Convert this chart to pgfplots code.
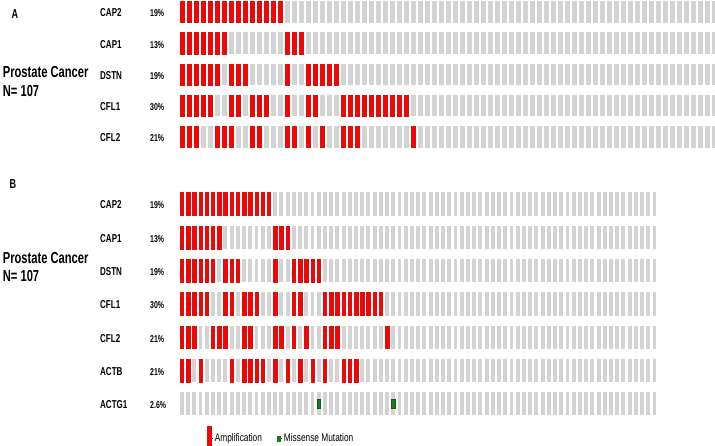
\documentclass[border=0pt]{standalone}
\usepackage{pgfplots}
\pgfplotsset{compat=1.18}
\usepackage{pgfplotstable}
\usepackage{fontspec}
\setmainfont{Liberation Sans}
\newfontfamily\cond[FakeStretch=0.7]{Liberation Sans}
\newfontfamily\legf[FakeStretch=0.76]{Liberation Sans}
\definecolor{ampred}{HTML}{FF0000}
\definecolor{ampedge}{HTML}{D41414}
\definecolor{cellgray}{HTML}{D3D3D3}
\definecolor{misgreen}{HTML}{1E7A1E}

% status grid: every displayed sample (77 columns) for each gene row
\pgfplotstableread[row sep=\\]{
i r1 r2 r3 r4 r5 r6 r7\\
0 1 2 3 4 5 6 7\\ 1 1 2 3 4 5 6 7\\ 2 1 2 3 4 5 6 7\\ 3 1 2 3 4 5 6 7\\ 4 1 2 3 4 5 6 7\\
5 1 2 3 4 5 6 7\\ 6 1 2 3 4 5 6 7\\ 7 1 2 3 4 5 6 7\\ 8 1 2 3 4 5 6 7\\ 9 1 2 3 4 5 6 7\\
10 1 2 3 4 5 6 7\\ 11 1 2 3 4 5 6 7\\ 12 1 2 3 4 5 6 7\\ 13 1 2 3 4 5 6 7\\ 14 1 2 3 4 5 6 7\\
15 1 2 3 4 5 6 7\\ 16 1 2 3 4 5 6 7\\ 17 1 2 3 4 5 6 7\\ 18 1 2 3 4 5 6 7\\ 19 1 2 3 4 5 6 7\\
20 1 2 3 4 5 6 7\\ 21 1 2 3 4 5 6 7\\ 22 1 2 3 4 5 6 7\\ 23 1 2 3 4 5 6 7\\ 24 1 2 3 4 5 6 7\\
25 1 2 3 4 5 6 7\\ 26 1 2 3 4 5 6 7\\ 27 1 2 3 4 5 6 7\\ 28 1 2 3 4 5 6 7\\ 29 1 2 3 4 5 6 7\\
30 1 2 3 4 5 6 7\\ 31 1 2 3 4 5 6 7\\ 32 1 2 3 4 5 6 7\\ 33 1 2 3 4 5 6 7\\ 34 1 2 3 4 5 6 7\\
35 1 2 3 4 5 6 7\\ 36 1 2 3 4 5 6 7\\ 37 1 2 3 4 5 6 7\\ 38 1 2 3 4 5 6 7\\ 39 1 2 3 4 5 6 7\\
40 1 2 3 4 5 6 7\\ 41 1 2 3 4 5 6 7\\ 42 1 2 3 4 5 6 7\\ 43 1 2 3 4 5 6 7\\ 44 1 2 3 4 5 6 7\\
45 1 2 3 4 5 6 7\\ 46 1 2 3 4 5 6 7\\ 47 1 2 3 4 5 6 7\\ 48 1 2 3 4 5 6 7\\ 49 1 2 3 4 5 6 7\\
50 1 2 3 4 5 6 7\\ 51 1 2 3 4 5 6 7\\ 52 1 2 3 4 5 6 7\\ 53 1 2 3 4 5 6 7\\ 54 1 2 3 4 5 6 7\\
55 1 2 3 4 5 6 7\\ 56 1 2 3 4 5 6 7\\ 57 1 2 3 4 5 6 7\\ 58 1 2 3 4 5 6 7\\ 59 1 2 3 4 5 6 7\\
60 1 2 3 4 5 6 7\\ 61 1 2 3 4 5 6 7\\ 62 1 2 3 4 5 6 7\\ 63 1 2 3 4 5 6 7\\ 64 1 2 3 4 5 6 7\\
65 1 2 3 4 5 6 7\\ 66 1 2 3 4 5 6 7\\ 67 1 2 3 4 5 6 7\\ 68 1 2 3 4 5 6 7\\ 69 1 2 3 4 5 6 7\\
70 1 2 3 4 5 6 7\\ 71 1 2 3 4 5 6 7\\ 72 1 2 3 4 5 6 7\\ 73 1 2 3 4 5 6 7\\ 74 1 2 3 4 5 6 7\\
75 1 2 3 4 5 6 7\\ 76 1 2 3 4 5 6 7\\
}\grid

% amplifications: sample index i, gene row r
% r: 1 CAP2, 2 CAP1, 3 DSTN, 4 CFL1, 5 CFL2, 6 ACTB
\pgfplotstableread[row sep=\\]{
i r\\
0 1\\ 1 1\\ 2 1\\ 3 1\\ 4 1\\ 5 1\\ 6 1\\ 7 1\\ 8 1\\ 9 1\\ 10 1\\ 11 1\\ 12 1\\ 13 1\\ 14 1\\
0 2\\ 1 2\\ 2 2\\ 3 2\\ 4 2\\ 5 2\\ 6 2\\ 15 2\\ 16 2\\ 17 2\\
0 3\\ 1 3\\ 2 3\\ 3 3\\ 4 3\\ 5 3\\ 7 3\\ 8 3\\ 9 3\\ 15 3\\ 18 3\\ 19 3\\ 20 3\\ 21 3\\ 22 3\\
0 4\\ 1 4\\ 2 4\\ 3 4\\ 4 4\\ 7 4\\ 8 4\\ 10 4\\ 11 4\\ 12 4\\ 15 4\\ 18 4\\ 19 4\\
23 4\\ 24 4\\ 25 4\\ 26 4\\ 27 4\\ 28 4\\ 29 4\\ 30 4\\ 31 4\\ 32 4\\
0 5\\ 1 5\\ 2 5\\ 5 5\\ 6 5\\ 7 5\\ 10 5\\ 11 5\\ 15 5\\ 16 5\\ 18 5\\ 20 5\\ 23 5\\ 24 5\\ 25 5\\ 33 5\\
0 6\\ 1 6\\ 3 6\\ 8 6\\ 10 6\\ 11 6\\ 12 6\\ 13 6\\ 15 6\\ 17 6\\ 19 6\\ 21 6\\ 23 6\\ 26 6\\ 27 6\\ 28 6\\
}\amp

% missense mutations (ACTG1, row 7)
\pgfplotstableread[row sep=\\]{
i r\\
22 7\\ 34 7\\
}\mis

\pgfdeclareplotmark{cellAfill}{\pgfpathrectangle{\pgfpoint{-2.3bp}{-10.75bp}}{\pgfpoint{4.6bp}{21.5bp}}\pgfusepathqfill}
\pgfdeclareplotmark{cellAbox}{\pgfpathrectangle{\pgfpoint{-2.1bp}{-10.55bp}}{\pgfpoint{4.2bp}{21.1bp}}\pgfusepathqfillstroke}
\pgfdeclareplotmark{cellBfill}{\pgfpathrectangle{\pgfpoint{-1.95bp}{-11.65bp}}{\pgfpoint{3.9bp}{23.3bp}}\pgfusepathqfill}
\pgfdeclareplotmark{cellBbox}{\pgfpathrectangle{\pgfpoint{-1.75bp}{-11.45bp}}{\pgfpoint{3.5bp}{22.9bp}}\pgfusepathqfillstroke}
\pgfdeclareplotmark{misB}{\pgfpathrectangle{\pgfpoint{-1.7bp}{-4.3bp}}{\pgfpoint{3.4bp}{8.6bp}}\pgfusepathqfillstroke}

\pgfplotsset{
  grayA/.style={only marks, mark=cellAfill, color=cellgray, mark options={fill=cellgray}, forget plot},
  redA/.style={only marks, mark=cellAbox, mark options={fill=ampred, draw=ampedge, line width=0.4bp}, forget plot},
  grayB/.style={only marks, mark=cellBfill, color=cellgray, mark options={fill=cellgray}, forget plot},
  redB/.style={only marks, mark=cellBbox, mark options={fill=ampred, draw=ampedge, line width=0.4bp}, forget plot},
  misS/.style={only marks, mark=misB, mark options={fill=misgreen, draw=misgreen!70!black, line width=0.3bp}, forget plot},
}

\begin{document}
\begin{tikzpicture}
\useasboundingbox (0bp,0bp) rectangle (715bp,446bp);

% ---------- Panel A ----------
\begin{axis}[at={(179bp,449.6bp)}, anchor=north west, scale only axis,
  width=536bp, height=156bp, xmin=-0.5, xmax=76.071, ymin=0.5, ymax=5.5,
  y dir=reverse, hide axis, clip=false]
\addplot[grayA] table[x=i,y=r1]{\grid};
\addplot[grayA] table[x=i,y=r2]{\grid};
\addplot[grayA] table[x=i,y=r3]{\grid};
\addplot[grayA] table[x=i,y=r4]{\grid};
\addplot[grayA] table[x=i,y=r5]{\grid};
\addplot[redA, restrict y to domain=0:5.5] table[x=i,y=r]{\amp};
\end{axis}

% ---------- Panel B ----------
\begin{axis}[at={(178.74bp,258.65bp)}, anchor=north west, scale only axis,
  width=478.9bp, height=233.1bp, xmin=-0.5, xmax=76.5, ymin=0.5, ymax=7.5,
  y dir=reverse, hide axis, clip=false,
  legend columns=2,
  legend style={at={(0.0584,-0.069)}, anchor=west, draw=none, fill=none,
    inner sep=0pt, font=\legf\fontsize{11}{13}\selectfont,
    /tikz/every even column/.append style={column sep=13bp}},
  legend cell align=left]
\addplot[grayB] table[x=i,y=r1]{\grid};
\addplot[grayB] table[x=i,y=r2]{\grid};
\addplot[grayB] table[x=i,y=r3]{\grid};
\addplot[grayB] table[x=i,y=r4]{\grid};
\addplot[grayB] table[x=i,y=r5]{\grid};
\addplot[grayB] table[x=i,y=r6]{\grid};
\addplot[grayB] table[x=i,y=r7]{\grid};
\addplot[redB] table[x=i,y=r]{\amp};
\addplot[misS] table[x=i,y=r]{\mis};
\addlegendimage{legend image code/.code={\path (0bp,0bp) -- (5.5bp,0bp); \fill[ampred,draw=ampedge,line width=0.4bp] (0bp,-8.5bp) rectangle (3.8bp,12.5bp);}}
\addlegendentry{Amplification}
\addlegendimage{legend image code/.code={\path (0bp,0bp) -- (4.5bp,0bp); \fill[misgreen] (0bp,-2.5bp) rectangle (3.2bp,2.5bp);}}
\addlegendentry{Missense Mutation}
\end{axis}

% ---------- Labels ----------
\begin{scope}[every node/.style={inner sep=0pt, anchor=base west}]
\node[font=\cond\bfseries\fontsize{13}{15}\selectfont] at (11.5bp,427.7bp) {A};
\node[font=\cond\bfseries\fontsize{13}{15}\selectfont] at (9.5bp,257.7bp) {B};
\node[font=\cond\bfseries\fontsize{16}{18}\selectfont] at (2.7bp,368.7bp) {Prostate Cancer};
\node[font=\cond\bfseries\fontsize{16}{18}\selectfont] at (2.7bp,349.3bp) {N= 107};
\node[font=\cond\bfseries\fontsize{16}{18}\selectfont] at (2.7bp,182.7bp) {Prostate Cancer};
\node[font=\cond\bfseries\fontsize{16}{18}\selectfont] at (2.7bp,164.3bp) {N= 107};
% panel A genes
\foreach \g/\p/\y in {CAP2/19\%/429, CAP1/13\%/397.8, DSTN/19\%/366.6, CFL1/30\%/335.4, CFL2/21\%/304.2}{
  \node[font=\cond\bfseries\fontsize{11.5}{13}\selectfont] at (100bp,\y bp) {\g};
  \node[font=\cond\bfseries\fontsize{10}{12}\selectfont] at (150bp,\y bp) {\p};
}
% panel B genes
\foreach \g/\p/\y in {CAP2/19\%/237, CAP1/13\%/203.7, DSTN/19\%/170.4, CFL1/30\%/137.1, CFL2/21\%/103.8, ACTB/21\%/70.5, ACTG1/2.6\%/37.2}{
  \node[font=\cond\bfseries\fontsize{11.5}{13}\selectfont] at (100bp,\y bp) {\g};
  \node[font=\cond\bfseries\fontsize{10}{12}\selectfont] at (150bp,\y bp) {\p};
}
\end{scope}
\end{tikzpicture}
\end{document}
